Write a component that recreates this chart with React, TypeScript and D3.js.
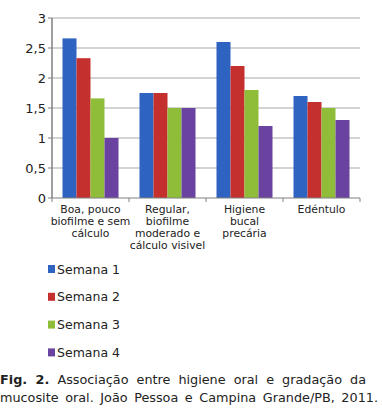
import React, { useLayoutEffect, useRef, useState } from "react";
import * as d3 from "d3";

const categories = [
  ["Boa, pouco", "biofilme e sem", "cálculo"],
  ["Regular,", "biofilme", "moderado e", "cálculo visivel"],
  ["Higiene", "bucal", "precária"],
  ["Edéntulo"],
];
const seriesNames = ["Semana 1", "Semana 2", "Semana 3", "Semana 4"];
const semana1 = [2.66, 1.75, 2.6, 1.7];
const semana2 = [2.33, 1.75, 2.2, 1.6];
const semana3 = [1.66, 1.5, 1.8, 1.5];
const semana4 = [1.0, 1.5, 1.2, 1.3];
const yTicks = [0, 0.5, 1, 1.5, 2, 2.5, 3];
const colors = ["#2e63c2", "#c4302d", "#8fbd3a", "#6a43a0"];
const captionBold = "Fig. 2.";
const captionLine1 = "Associação entre higiene oral e gradação da";
const captionLine2 = "mucosite oral. João Pessoa e Campina Grande/PB, 2011.";

export default function App() {
  const series = [semana1, semana2, semana3, semana4];
  const left = 52, right = 360, top = 18, bottom = 198;
  const x = d3.scaleBand<number>().domain(d3.range(categories.length)).range([left, right]).paddingInner(0).paddingOuter(0);
  const inner = d3.scaleBand<number>().domain(d3.range(series.length)).range([10.5, x.bandwidth() - 10.5]);
  const y = d3.scaleLinear().domain([0, 3]).range([bottom, top]);
  const font = "Verdana, 'DejaVu Sans', sans-serif";
  const fmt = (v: number) => String(v).replace(".", ",");
  const l1 = useRef<SVGTextElement>(null);
  const l2 = useRef<SVGTextElement>(null);
  const [ws, setWs] = useState<[number, number]>([0, 0]);
  useLayoutEffect(() => {
    if (l1.current && l2.current && ws[0] === 0 && ws[1] === 0) {
      const w1 = l1.current.getComputedTextLength();
      const w2 = l2.current.getComputedTextLength();
      setWs([(366 - w1) / 8, (378 - w2) / 7]);
    }
  }, []);
  return (
    <svg width={382} height={415} style={{ position: "absolute", left: 0, top: 0, background: "#fff" }} fontFamily={font}>
      {yTicks.slice(1).map((t) => (
        <line key={t} x1={left} x2={right} y1={y(t)} y2={y(t)} stroke="#a8a8a8" strokeWidth={1.2} />
      ))}
      {series.map((s, si) =>
        s.map((v, ci) => (
          <rect key={si + "-" + ci} x={x(ci)! + inner(si)!} y={y(v)} width={inner.bandwidth()} height={y(0) - y(v)} fill={colors[si]} />
        ))
      )}
      <line x1={left} x2={left} y1={top} y2={bottom} stroke="#808080" strokeWidth={1.5} />
      <line x1={left} x2={right} y1={bottom} y2={bottom} stroke="#808080" strokeWidth={1.2} />
      {yTicks.map((t) => (
        <g key={t}>
          <line x1={left - 4} x2={left} y1={y(t)} y2={y(t)} stroke="#808080" />
          <text x={left - 6} y={y(t)} dy="0.36em" textAnchor="end" fontSize={13} fill="#222">{fmt(t)}</text>
        </g>
      ))}
      {d3.range(categories.length + 1).map((i) => (
        <line key={i} x1={left + i * x.bandwidth()} x2={left + i * x.bandwidth()} y1={bottom} y2={bottom + 4} stroke="#808080" />
      ))}
      {categories.map((lines, ci) => (
        <text key={ci} x={x(ci)! + x.bandwidth() / 2} y={213} textAnchor="middle" fontSize={10.8} fill="#222">
          {lines.map((l, li) => (
            <tspan key={li} x={x(ci)! + x.bandwidth() / 2} dy={li === 0 ? 0 : 12}>{l}</tspan>
          ))}
        </text>
      ))}
      {seriesNames.map((n, i) => (
        <g key={n} transform={`translate(48, ${269 + i * 27.8})`}>
          <rect x={0} y={-4} width={7} height={8} fill={colors[i]} />
          <text x={9} y={0} dy="0.36em" fontSize={12.5} fill="#222">{n}</text>
        </g>
      ))}
      <text ref={l1} x={0} y={384} fontSize={12.8} fill="#222" style={{ wordSpacing: ws[0] + "px" }}>
        <tspan fontWeight="bold">{captionBold}</tspan>{" " + captionLine1}
      </text>
      <text ref={l2} x={0} y={402} fontSize={12.8} fill="#222" style={{ wordSpacing: ws[1] + "px" }}>{captionLine2}</text>
    </svg>
  );
}
